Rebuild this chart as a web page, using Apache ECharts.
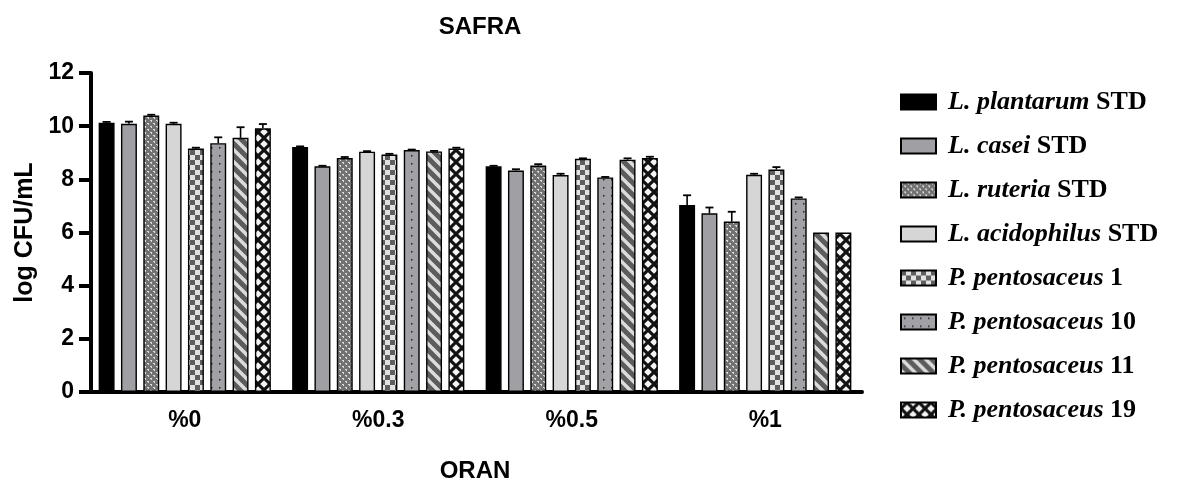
<!DOCTYPE html>
<html>
<head>
<meta charset="utf-8">
<script src="https://cdn.jsdelivr.net/npm/echarts@6/dist/echarts.min.js"></script>
<style>
  html, body { margin: 0; padding: 0; background: #fff; }
  #chart { width: 1178px; height: 488px; }
</style>
</head>
<body>
<div id="chart"></div>
<script>
// ---- data ----
const categories = ['%0', '%0.3', '%0.5', '%1'];
const seriesNames = [
  'L. plantarum STD', 'L. casei STD', 'L. ruteria STD', 'L. acidophilus STD',
  'P. pentosaceus 1', 'P. pentosaceus 10', 'P. pentosaceus 11', 'P. pentosaceus 19'
];
const yTicks = [0, 2, 4, 6, 8, 10, 12];

const plantarum   = [10.13, 9.22, 8.49, 7.03];
const casei       = [10.09, 8.49, 8.33, 6.72];
const ruteria     = [10.40, 8.80, 8.52, 6.41];
const acidophilus = [10.09, 9.04, 8.16, 8.17];
const pento1      = [9.16, 8.93, 8.77, 8.37];
const pento10     = [9.36, 9.10, 8.07, 7.28];
const pento11     = [9.56, 9.05, 8.74, 6.00];
const pento19     = [9.92, 9.16, 8.80, 6.00];

const errPlantarum   = [0.03, 0.02, 0.02, 0.37];
const errCasei       = [0.08, 0.02, 0.05, 0.22];
const errRuteria     = [0.03, 0.04, 0.05, 0.37];
const errAcidophilus = [0.04, 0.02, 0.05, 0.04];
const errPento1      = [0.03, 0.03, 0.02, 0.09];
const errPento10     = [0.22, 0.02, 0.02, 0.04];
const errPento11     = [0.40, 0.02, 0.05, 0.00];
const errPento19     = [0.16, 0.03, 0.05, 0.00];

const means  = [plantarum, casei, ruteria, acidophilus, pento1, pento10, pento11, pento19];
const errors = [errPlantarum, errCasei, errRuteria, errAcidophilus, errPento1, errPento10, errPento11, errPento19];

// ---- fill patterns ----
function makePattern(w, h, draw) {
  const c = document.createElement('canvas');
  c.width = w; c.height = h;
  const ctx = c.getContext('2d');
  draw(ctx, w, h);
  return { image: c, repeat: 'repeat' };
}
const patRuteria = makePattern(6, 6, (ctx) => {
  ctx.fillStyle = '#727272'; ctx.fillRect(0, 0, 6, 6);
  ctx.fillStyle = '#dcdcdc';
  ctx.fillRect(0, 0, 2, 1); ctx.fillRect(1, 1, 1, 1);
  ctx.fillRect(3, 3, 2, 1); ctx.fillRect(4, 4, 1, 1);
});
const patChecker = makePattern(10, 10, (ctx) => {
  ctx.fillStyle = '#e2e2e2'; ctx.fillRect(0, 0, 10, 10);
  ctx.fillStyle = '#5e5e5e';
  ctx.fillRect(0, 0, 5, 5); ctx.fillRect(5, 5, 5, 5);
});
const patDots = makePattern(8, 8, (ctx) => {
  ctx.fillStyle = '#a2a2a6'; ctx.fillRect(0, 0, 8, 8);
  ctx.fillStyle = '#222';
  ctx.fillRect(3, 3, 1.5, 1.5);
});
const patStripes = makePattern(12, 12, (ctx) => {
  ctx.fillStyle = '#5c5c5c'; ctx.fillRect(0, 0, 12, 12);
  ctx.strokeStyle = '#dcdcdc'; ctx.lineWidth = 3.5;
  [[-6, -6, 18, 18], [-6, 6, 6, 18], [6, -6, 18, 6]].forEach(l => {
    ctx.beginPath(); ctx.moveTo(l[0], l[1]); ctx.lineTo(l[2], l[3]); ctx.stroke();
  });
});
const patCross = makePattern(12, 12, (ctx) => {
  ctx.fillStyle = '#111'; ctx.fillRect(0, 0, 12, 12);
  ctx.fillStyle = '#f4f4f4';
  const d = (cx, cy, r) => {
    ctx.beginPath(); ctx.moveTo(cx, cy - r); ctx.lineTo(cx + r, cy);
    ctx.lineTo(cx, cy + r); ctx.lineTo(cx - r, cy); ctx.closePath(); ctx.fill();
  };
  d(6, 6, 3.8); d(0, 0, 3.8); d(12, 0, 3.8); d(0, 12, 3.8); d(12, 12, 3.8);
});
const fills = ['#000000', '#a0a0a4', patRuteria, '#d6d6d6', patChecker, patDots, patStripes, patCross];

// ---- layout constants ----
const CAT_GAP = 0.11;
const BAR_GAP = 0.40;
const N = seriesNames.length;

const barSeries = seriesNames.map((name, i) => ({
  name: name,
  type: 'bar',
  data: means[i],
  barGap: (BAR_GAP * 100) + '%',
  barCategoryGap: (CAT_GAP * 100) + '%',
  itemStyle: { color: fills[i], borderColor: '#000', borderWidth: 1.4 },
  emphasis: { disabled: true },
  animation: false
}));

const errData = [];
means.forEach((arr, si) => arr.forEach((v, ci) => errData.push([ci, v, errors[si][ci], si])));

const errSeries = {
  type: 'custom',
  name: 'err',
  data: errData,
  encode: { x: 0, y: 1 },
  z: 5,
  clip: false,
  animation: false,
  silent: true,
  renderItem: function (params, api) {
    const ci = api.value(0), v = api.value(1), e = api.value(2), si = api.value(3);
    if (!(e > 0)) return null;
    const base = api.coord([ci, v]);
    const top = api.coord([ci, v + e]);
    const band = api.size([1, 0])[0];
    const bw = band * (1 - CAT_GAP) / (N + (N - 1) * BAR_GAP);
    const groupW = N * bw + (N - 1) * bw * BAR_GAP;
    const x = base[0] - groupW / 2 + bw / 2 + si * bw * (1 + BAR_GAP);
    return {
      type: 'group',
      children: [
        { type: 'line', shape: { x1: x, y1: base[1], x2: x, y2: top[1] }, style: { stroke: '#000', lineWidth: 1.6 } },
        { type: 'line', shape: { x1: x - 4, y1: top[1], x2: x + 4, y2: top[1] }, style: { stroke: '#000', lineWidth: 1.8 } }
      ]
    };
  }
};

const chart = echarts.init(document.getElementById('chart'), null, { renderer: 'canvas' });
const axisFont = { fontFamily: 'Liberation Sans, Arial, sans-serif', fontWeight: 'bold', color: '#000' };
const serif = 'Liberation Serif, Times New Roman, serif';

chart.setOption({
  backgroundColor: '#fff',
  animation: false,
  title: {
    text: 'SAFRA',
    left: 475, top: 10, textAlign: 'center',
    textStyle: Object.assign({ fontSize: 24 }, axisFont)
  },
  grid: { left: 88, right: 316, top: 73, bottom: 92, containLabel: false },
  legend: {
    data: seriesNames,
    orient: 'vertical',
    left: 895, top: 84,
    itemWidth: 35, itemHeight: 15, itemGap: 18,
    icon: 'rect',
    selectedMode: false,
    textStyle: {
      padding: [0, 0, 0, 7],
      rich: {
        i: { fontFamily: serif, fontStyle: 'italic', fontWeight: 'bold', fontSize: 26, color: '#000', lineHeight: 27 },
        n: { fontFamily: serif, fontWeight: 'bold', fontSize: 26, color: '#000', lineHeight: 27 }
      }
    },
    formatter: function (name) {
      const k = name.lastIndexOf(' ');
      return '{i|' + name.slice(0, k + 1) + '}{n|' + name.slice(k + 1) + '}';
    }
  },
  xAxis: {
    type: 'category',
    data: categories,
    name: 'ORAN',
    nameLocation: 'middle',
    nameGap: 67,
    nameTextStyle: Object.assign({ fontSize: 24 }, axisFont),
    axisLine: { lineStyle: { color: '#000', width: 4 } },
    axisTick: { alignWithLabel: true, length: 13, lineStyle: { width: 4, color: '#000' } },
    axisLabel: Object.assign({ fontSize: 23, margin: 17 }, axisFont),
    splitLine: { show: false }
  },
  yAxis: {
    type: 'value',
    min: 0, max: 12, interval: 2,
    offset: -3,
    name: 'log CFU/mL',
    nameLocation: 'middle',
    nameGap: 41,
    nameRotate: 90,
    nameTextStyle: Object.assign({ fontSize: 25 }, axisFont),
    axisLine: { show: true, lineStyle: { color: '#000', width: 4 } },
    axisTick: { show: true, length: 12, lineStyle: { width: 4, color: '#000' } },
    axisLabel: Object.assign({ fontSize: 23, margin: 17, formatter: (v) => yTicks.indexOf(v) >= 0 ? String(v) : '' }, axisFont),
    splitLine: { show: false }
  },
  series: barSeries.concat([errSeries])
});
</script>
</body>
</html>
